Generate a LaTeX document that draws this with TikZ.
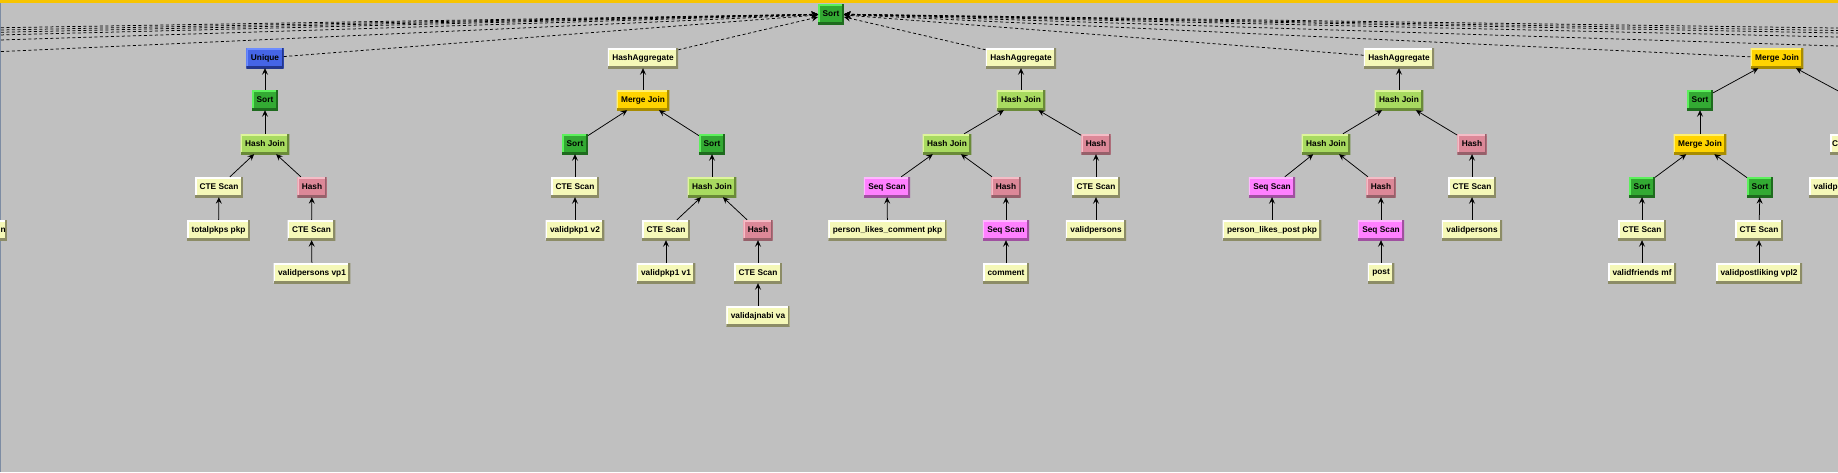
\documentclass[tikz,border=0pt]{standalone}
\usepackage{fontspec}
\newfontfamily\planfont{Liberation Sans}
\usetikzlibrary{arrows.meta}
\definecolor{canvasgrey}{HTML}{C0C0C0}
\definecolor{bandgold}{HTML}{F7C400}
\definecolor{edgeslate}{HTML}{7D8CA3}
\definecolor{sortfill}{HTML}{33AA33}
\definecolor{sorthi}{HTML}{5CF05C}
\definecolor{sortlo}{HTML}{1E6B1E}
\definecolor{uniquefill}{HTML}{4565E6}
\definecolor{uniquehi}{HTML}{6C8CFF}
\definecolor{uniquelo}{HTML}{23368C}
\definecolor{joinfill}{HTML}{A8DA60}
\definecolor{joinhi}{HTML}{DDF59A}
\definecolor{joinlo}{HTML}{6A8A38}
\definecolor{hashfill}{HTML}{DC8898}
\definecolor{hashhi}{HTML}{F4BCC6}
\definecolor{hashlo}{HTML}{96606A}
\definecolor{mergefill}{HTML}{FFD400}
\definecolor{mergehi}{HTML}{FFF070}
\definecolor{mergelo}{HTML}{A88C00}
\definecolor{seqfill}{HTML}{FF80FF}
\definecolor{seqhi}{HTML}{FFB8FF}
\definecolor{seqlo}{HTML}{A050A0}
\definecolor{scanfill}{HTML}{F5F8B8}
\definecolor{scanhi}{HTML}{FFFFFF}
\definecolor{scanlo}{HTML}{8C8C66}
\newcommand{\planlabel}{\planfont\bfseries\fontsize{8.3pt}{10pt}\selectfont}
\begin{document}
\begin{tikzpicture}[x=1pt, y=-1pt,
             plan/.style n args={3}{rectangle, fill=#1, minimum height=20pt,
                inner xsep=4.5pt, inner ysep=0pt, font=\planlabel, text=black,
                path picture={
                  \draw[#2, line width=3pt] (path picture bounding box.south west) -- (path picture bounding box.north west) -- (path picture bounding box.north east);
                  \draw[#3, line width=4pt] (path picture bounding box.north east) -- (path picture bounding box.south east) -- (path picture bounding box.south west);}},
             sortbox/.style={plan={sortfill}{sorthi}{sortlo}},
             uniquebox/.style={plan={uniquefill}{uniquehi}{uniquelo}},
             joinbox/.style={plan={joinfill}{joinhi}{joinlo}},
             hashbox/.style={plan={hashfill}{hashhi}{hashlo}},
             mergebox/.style={plan={mergefill}{mergehi}{mergelo}},
             seqbox/.style={plan={seqfill}{seqhi}{seqlo}},
             scanbox/.style={plan={scanfill}{scanhi}{scanlo}},
             feeds/.style={draw, line width=0.75pt, -{Stealth[length=6.5pt, width=6pt, inset=2.5pt]}},
             toroot/.style={feeds, line width=0.75pt, dash pattern=on 3pt off 2.5pt},
          ]
          \useasboundingbox (0,0) rectangle (1838,472);
          \clip (0,0) rectangle (1838,472);
          \fill[canvasgrey] (0,0) rectangle (1838,472);
          \fill[bandgold] (0,0) rectangle (1838,3);
          \fill[edgeslate] (0,3) rectangle (1,472);

          \node at (831,14) (root) [sortbox] {Sort};

          \node at (265,58) (uniq) [uniquebox] {Unique};
          \node at (265,100) (sortA) [sortbox] {Sort};
          \node at (265,144) (hjA) [joinbox] {Hash Join};
          \node at (219,187) (cteA1) [scanbox] {CTE Scan};
          \node at (312,187) (hashA) [hashbox] {Hash};
          \node at (218.5,230) (relA1) [scanbox] {totalpkps pkp};
          \node at (311.5,230) (cteA2) [scanbox] {CTE Scan};
          \node at (312,273) (relA2) [scanbox] {validpersons vp1};
          \node at (7,230) (cutL) [scanbox, anchor=east, inner xsep=1pt, text width=40pt, align=right] {n};

          \node at (643,58) (haB) [scanbox] {HashAggregate};
          \node at (643,100) (mjB) [mergebox] {Merge Join};
          \node at (575,144) (sortB1) [sortbox] {Sort};
          \node at (712,144) (sortB2) [sortbox] {Sort};
          \node at (575,187) (cteB1) [scanbox] {CTE Scan};
          \node at (712,187) (hjB) [joinbox] {Hash Join};
          \node at (575,230) (relB1) [scanbox] {validpkp1 v2};
          \node at (666,230) (cteB2) [scanbox] {CTE Scan};
          \node at (758,230) (hashB) [hashbox] {Hash};
          \node at (666,273) (relB2) [scanbox] {validpkp1 v1};
          \node at (758,273) (cteB3) [scanbox] {CTE Scan};
          \node at (758,316) (relB3) [scanbox] {validajnabi va};

          \node at (1021,58) (haC) [scanbox] {HashAggregate};
          \node at (1021,100) (hjC1) [joinbox] {Hash Join};
          \node at (947,144) (hjC2) [joinbox] {Hash Join};
          \node at (1096,144) (hashC1) [hashbox] {Hash};
          \node at (887,187) (seqC1) [seqbox] {Seq Scan};
          \node at (1006,187) (hashC2) [hashbox] {Hash};
          \node at (1096,187) (cteC) [scanbox] {CTE Scan};
          \node at (887.5,230) (relC1) [scanbox] {person\_likes\_comment pkp};
          \node at (1006,230) (seqC2) [seqbox] {Seq Scan};
          \node at (1096,230) (relC2) [scanbox] {validpersons};
          \node at (1006,273) (relC3) [scanbox] {comment};

          \node at (1399,58) (haD) [scanbox] {HashAggregate};
          \node at (1399,100) (hjD1) [joinbox] {Hash Join};
          \node at (1326,144) (hjD2) [joinbox] {Hash Join};
          \node at (1472,144) (hashD1) [hashbox] {Hash};
          \node at (1272,187) (seqD1) [seqbox] {Seq Scan};
          \node at (1381,187) (hashD2) [hashbox] {Hash};
          \node at (1472,187) (cteD) [scanbox] {CTE Scan};
          \node at (1272,230) (relD1) [scanbox] {person\_likes\_post pkp};
          \node at (1381,230) (seqD2) [seqbox] {Seq Scan};
          \node at (1472,230) (relD2) [scanbox] {validpersons};
          \node at (1381,273) (relD3) [scanbox] {post};

          \node at (1777,58) (mjE1) [mergebox] {Merge Join};
          \node at (1700,100) (sortE1) [sortbox] {Sort};
          \coordinate (sortE2) at (1855,100);
          \node at (1700,144) (mjE2) [mergebox] {Merge Join};
          \node at (1642,187) (sortE3) [sortbox] {Sort};
          \node at (1760,187) (sortE4) [sortbox] {Sort};
          \node at (1642,230) (cteE1) [scanbox] {CTE Scan};
          \node at (1759,230) (cteE2) [scanbox] {CTE Scan};
          \node at (1642,273) (relE1) [scanbox] {validfriends mf};
          \node at (1759,273) (relE2) [scanbox] {validpostliking vpl2};
          \node at (1830,144) (cutC) [scanbox, anchor=west, inner xsep=2pt, text width=40pt, align=left] {C};
          \node at (1809,187) (cutV) [scanbox, anchor=west, text width=80pt, align=left] {validp};

          \coordinate (farL1) at (-10,27.9);
          \coordinate (farL2) at (-10,30.2);
          \coordinate (farL3) at (-10,32.5);
          \coordinate (farL4) at (-10,35.2);
          \coordinate (farL5) at (-10,40.3);
          \coordinate (farL6) at (-10,52.1);
          \coordinate (farR1) at (1850,28.2);
          \coordinate (farR2) at (1850,30.7);
          \coordinate (farR3) at (1850,33.2);
          \coordinate (farR4) at (1850,37.3);
          \coordinate (farR5) at (1850,46.4);

          \foreach \far in {farL1,farL2,farL3,farL4,farL5,farL6,farR1,farR2,farR3,farR4,farR5,uniq,haB,haC,haD,mjE1}
            \draw[toroot] (\far) -- (root);

          \draw[feeds] (sortA) -- (uniq);
          \draw[feeds] (hjA) -- (sortA);
          \draw[feeds] (cteA1) -- (hjA);
          \draw[feeds] (hashA) -- (hjA);
          \draw[feeds] (relA1) -- (cteA1);
          \draw[feeds] (cteA2) -- (hashA);
          \draw[feeds] (relA2) -- (cteA2);

          \draw[feeds] (mjB) -- (haB);
          \draw[feeds] (sortB1) -- (mjB);
          \draw[feeds] (sortB2) -- (mjB);
          \draw[feeds] (cteB1) -- (sortB1);
          \draw[feeds] (hjB) -- (sortB2);
          \draw[feeds] (relB1) -- (cteB1);
          \draw[feeds] (cteB2) -- (hjB);
          \draw[feeds] (hashB) -- (hjB);
          \draw[feeds] (relB2) -- (cteB2);
          \draw[feeds] (cteB3) -- (hashB);
          \draw[feeds] (relB3) -- (cteB3);

          \draw[feeds] (hjC1) -- (haC);
          \draw[feeds] (hjC2) -- (hjC1);
          \draw[feeds] (hashC1) -- (hjC1);
          \draw[feeds] (seqC1) -- (hjC2);
          \draw[feeds] (hashC2) -- (hjC2);
          \draw[feeds] (cteC) -- (hashC1);
          \draw[feeds] (relC1) -- (seqC1);
          \draw[feeds] (seqC2) -- (hashC2);
          \draw[feeds] (relC2) -- (cteC);
          \draw[feeds] (relC3) -- (seqC2);

          \draw[feeds] (hjD1) -- (haD);
          \draw[feeds] (hjD2) -- (hjD1);
          \draw[feeds] (hashD1) -- (hjD1);
          \draw[feeds] (seqD1) -- (hjD2);
          \draw[feeds] (hashD2) -- (hjD2);
          \draw[feeds] (cteD) -- (hashD1);
          \draw[feeds] (relD1) -- (seqD1);
          \draw[feeds] (seqD2) -- (hashD2);
          \draw[feeds] (relD2) -- (cteD);
          \draw[feeds] (relD3) -- (seqD2);

          \draw[feeds] (sortE1) -- (mjE1);
          \draw[feeds] (sortE2) -- (mjE1);
          \draw[feeds] (mjE2) -- (sortE1);
          \draw[feeds] (sortE3) -- (mjE2);
          \draw[feeds] (sortE4) -- (mjE2);
          \draw[feeds] (cteE1) -- (sortE3);
          \draw[feeds] (cteE2) -- (sortE4);
          \draw[feeds] (relE1) -- (cteE1);
          \draw[feeds] (relE2) -- (cteE2);
       \end{tikzpicture}
\end{document}
